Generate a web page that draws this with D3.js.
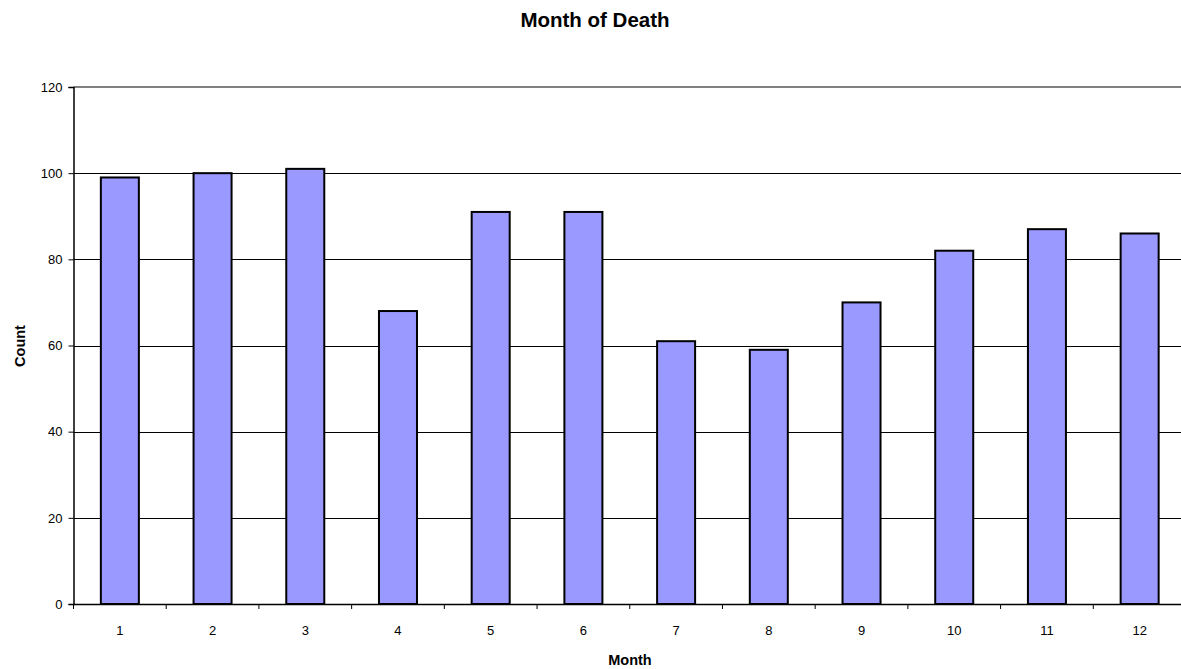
<!DOCTYPE html>
<html>
<head>
<meta charset="utf-8">
<script src="https://cdn.jsdelivr.net/npm/d3@7"></script>
<style>
  body { margin: 0; background: #fff; }
  svg { display: block; font-family: 'Liberation Sans', Arial, sans-serif; }
</style>
</head>
<body>
<div id="chart"></div>
<script>
const months = ['1', '2', '3', '4', '5', '6', '7', '8', '9', '10', '11', '12']
const counts = [99, 100, 101, 68, 91, 91, 61, 59, 70, 82, 87, 86]
const yTicks = [0, 20, 40, 60, 80, 100, 120]

const width = 1181
const height = 669
const margin = { top: 87, right: -5, bottom: 65, left: 73.5 }

const svg = d3.select('#chart')
  .append('svg')
  .attr('width', width)
  .attr('height', height)

const x = d3.scaleBand()
  .domain(months)
  .range([margin.left, width - margin.right])
  .paddingInner(0)

const y = d3.scaleLinear()
  .domain([0, 120])
  .range([height - margin.bottom, margin.top])

// gridlines
svg.append('g')
  .selectAll('line')
  .data(yTicks.filter(d => d > 0 && d < 120))
  .enter()
  .append('line')
  .attr('x1', margin.left)
  .attr('x2', width)
  .attr('y1', d => Math.round(y(d)) + 0.5)
  .attr('y2', d => Math.round(y(d)) + 0.5)
  .attr('stroke', '#000')
  .attr('stroke-width', 1)

// top border
svg.append('line')
  .attr('x1', margin.left)
  .attr('x2', width)
  .attr('y1', y(120))
  .attr('y2', y(120))
  .attr('stroke', '#808080')
  .attr('stroke-width', 2)

// bars
const barW = x.bandwidth() * 0.41
svg.append('g')
  .selectAll('rect')
  .data(counts)
  .enter()
  .append('rect')
  .attr('x', (d, i) => x(months[i]) + (x.bandwidth() - barW) / 2)
  .attr('y', d => y(d))
  .attr('width', barW)
  .attr('height', d => y(0) - y(d))
  .attr('fill', '#9999ff')
  .attr('stroke', '#000')
  .attr('stroke-width', 2)

// y axis
const yAxis = svg.append('g')
  .attr('transform', `translate(${margin.left},0)`)
  .call(d3.axisLeft(y).tickValues(yTicks).tickSize(5).tickPadding(6))
yAxis.select('.domain').attr('stroke', '#000').attr('stroke-width', 1.5)
yAxis.selectAll('.tick line').attr('stroke', '#000')
yAxis.selectAll('.tick text')
  .attr('font-size', 13)
  .attr('font-family', "'Liberation Sans', Arial, sans-serif")
  .attr('fill', '#000')

// x axis
const xAxis = svg.append('g')
  .attr('transform', `translate(0,${y(0)})`)
  .call(d3.axisBottom(x).tickSize(0).tickPadding(22))
xAxis.select('.domain').attr('stroke', '#000').attr('stroke-width', 1.5)
xAxis.selectAll('.tick text')
  .attr('font-size', 13)
  .attr('font-family', "'Liberation Sans', Arial, sans-serif")
  .attr('fill', '#000')

// x ticks at band boundaries
svg.append('g')
  .selectAll('line')
  .data(months)
  .enter()
  .append('line')
  .attr('x1', d => x(d))
  .attr('x2', d => x(d))
  .attr('y1', y(0))
  .attr('y2', y(0) + 5)
  .attr('stroke', '#000')

// title
svg.append('text')
  .attr('x', 595)
  .attr('y', 27)
  .attr('text-anchor', 'middle')
  .attr('font-size', 20.5)
  .attr('font-weight', 'bold')
  .text('Month of Death')

// axis titles
svg.append('text')
  .attr('x', 630)
  .attr('y', 665)
  .attr('text-anchor', 'middle')
  .attr('font-size', 14.5)
  .attr('font-weight', 'bold')
  .text('Month')

svg.append('text')
  .attr('transform', 'translate(25,346) rotate(-90)')
  .attr('text-anchor', 'middle')
  .attr('font-size', 14.5)
  .attr('font-weight', 'bold')
  .text('Count')
</script>
</body>
</html>
